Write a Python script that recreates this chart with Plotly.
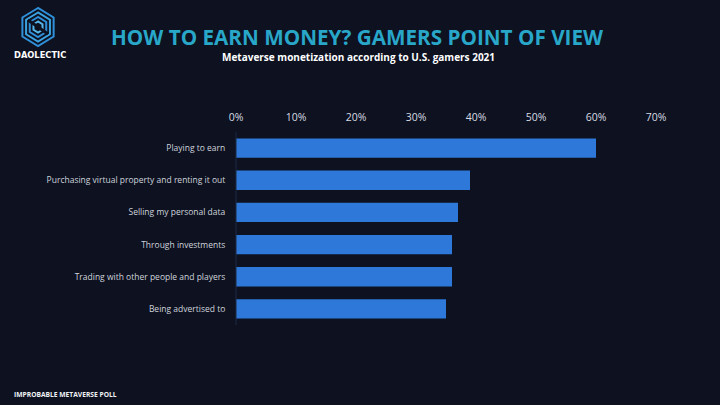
import plotly.graph_objects as go
import math

categories = [
    "Playing to earn",
    "Purchasing virtual property and renting it out",
    "Selling my personal data",
    "Through investments",
    "Trading with other people and players",
    "Being advertised to",
]
values = [60, 39, 37, 36, 36, 35]
tick_vals = [0, 10, 20, 30, 40, 50, 60, 70]
tick_text = ["0%", "10%", "20%", "30%", "40%", "50%", "60%", "70%"]

BG = "#0d1120"
W, H = 720, 405
ML, MR, MT, MB = 236, 64, 132, 80
PW, PH = W - ML - MR, H - MT - MB

def px(x):
    return (x - ML) / PW

def py(y):
    return (H - MB - y) / PH

fig = go.Figure(go.Bar(
    x=values, y=categories, orientation="h",
    marker=dict(color="#2d78d9", line=dict(width=0)),
    width=0.6, hoverinfo="x+y",
))

shapes = []
# logo: concentric hexagons
cx, cy = 38, 27
for r, col in [(19, "#2f8fd8"), (14.5, "#3aa3e0"), (10, "#2f8fd8"), (5.5, "#56b8ea")]:
    pts = []
    for k in range(6):
        a = math.pi / 2 + k * math.pi / 3
        pts.append((cx + r * math.cos(a) * 0.95, cy - r * math.sin(a)))
    path = "M " + " L ".join(f"{px(x):.4f},{py(y):.4f}" for x, y in pts) + " Z"
    shapes.append(dict(type="path", xref="paper", yref="paper", path=path,
                       line=dict(color=col, width=2), fillcolor="rgba(0,0,0,0)"))
shapes.append(dict(type="path", xref="paper", yref="paper",
                   path=f"M {px(28):.4f},{py(20):.4f} L {px(48):.4f},{py(34):.4f}",
                   line=dict(color="#0d1120", width=3)))
# faint axis line
shapes.append(dict(type="line", xref="paper", yref="paper", x0=0, x1=0, y0=0, y1=1,
                   line=dict(color="#1c2a45", width=1)))
fig.update_layout(shapes=shapes)

annotations = [
    dict(text="<b>HOW TO EARN MONEY? GAMERS POINT OF VIEW</b>", x=px(357), y=py(37),
         xref="paper", yref="paper", showarrow=False, xanchor="center", yanchor="middle",
         font=dict(family="Open Sans", size=20.7, color="#29a7c9")),
    dict(text="<b>Metaverse monetization according to U.S. gamers 2021</b>", x=px(358), y=py(57),
         xref="paper", yref="paper", showarrow=False, xanchor="center", yanchor="middle",
         font=dict(family="Open Sans", size=10, color="#ffffff")),
    dict(text="<b>DAOLECTIC</b>", x=px(40), y=py(55),
         xref="paper", yref="paper", showarrow=False, xanchor="center", yanchor="middle",
         font=dict(family="DejaVu Sans", size=8.3, color="#ffffff")),
    dict(text="<b>IMPROBABLE METAVERSE POLL</b>", x=px(12), y=py(394),
         xref="paper", yref="paper", showarrow=False, xanchor="left", yanchor="middle",
         font=dict(family="Open Sans", size=6.7, color="#f0f2f5")),
]
fig.update_layout(annotations=annotations)

fig.update_layout(
    width=W, height=H,
    margin=dict(l=ML, r=MR, t=MT, b=MB, pad=0),
    paper_bgcolor=BG, plot_bgcolor=BG,
    showlegend=False,
    bargap=0.4,
    xaxis=dict(side="top", range=[0, 70], tickvals=tick_vals, ticktext=tick_text,
               showgrid=False, zeroline=False, showline=False, ticks="",
               ticklabelstandoff=8,
               tickfont=dict(family="Open Sans", size=10.5, color="#d8dce3")),
    yaxis=dict(autorange="reversed", showgrid=False, zeroline=False, showline=False,
               ticks="outside", ticklen=8, tickcolor=BG,
               tickfont=dict(family="Open Sans", size=8.5, color="#cfd4dc")),
)

fig.write_html("out.html", config={"displayModeBar": False},
               post_script="document.body.style.margin='0';document.body.style.background='#0d1120';")
